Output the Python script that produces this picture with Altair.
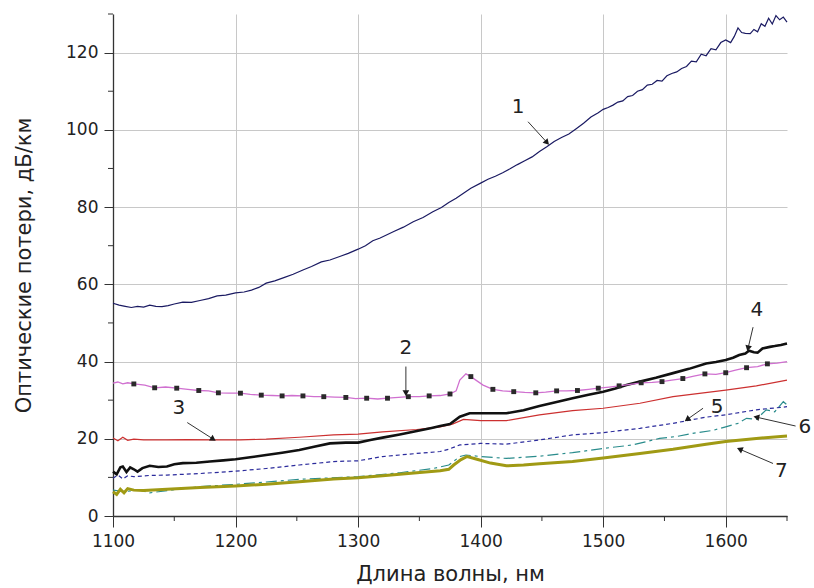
import math
import altair as alt
import pandas as pd

# ---------------- data ----------------
wl1 = [1100,1105,1110,1115,1120,1125,1130,1135,1140,1145,1150,1157,1164,1171,1178,1185,1192,1200,1207,1213,1219,1225,1232,1240,1247,1255,1262,1270,1277,1285,1292,1300,1306,1312,1318,1324,1330,1337,1345,1353,1361,1368,1374,1380,1386,1392,1400,1406,1412,1418,1424,1430,1436,1442,1448,1454,1460,1466,1472,1478,1484,1490,1496,1500,1504,1508,1512,1516,1520,1524,1528,1532,1536,1540,1544,1548,1552,1556,1560,1564,1568,1572,1576,1580,1584,1588,1592,1596,1600,1604,1607,1610,1613,1616,1620,1623,1626,1629,1632,1635,1638,1641,1644,1647,1650]
v1 = [55.1,54.6,54.3,54.0,54.3,54.1,54.6,54.3,54.2,54.5,54.9,55.4,55.3,55.8,56.3,57.0,57.2,57.8,58.0,58.5,59.2,60.3,60.9,61.8,62.6,63.7,64.6,65.8,66.3,67.2,68.0,69.1,70.0,71.3,72.0,72.9,73.8,74.8,76.2,77.3,78.8,79.9,81.2,82.3,83.6,84.9,86.2,87.2,88.0,88.9,89.9,91.0,92.0,93.0,94.4,95.6,97.0,98.0,98.9,100.3,101.7,103.3,104.4,105.3,105.8,106.4,107.2,107.5,108.6,108.9,110.0,110.4,111.6,111.8,112.8,112.6,114.0,114.6,115.0,115.9,116.4,117.8,117.6,119.6,119.2,121.0,120.7,122.6,123.3,122.6,124.2,126.4,125.2,125.0,124.9,126.0,125.4,127.5,126.8,128.9,127.4,129.6,128.5,129.2,127.9]

wl2 = [1100,1104,1108,1112,1117,1126,1134,1143,1152,1161,1170,1178,1186,1195,1204,1212,1221,1230,1238,1246,1255,1264,1272,1281,1290,1298,1307,1316,1324,1333,1341,1350,1358,1367,1375,1380,1383,1388,1392,1402,1410,1418,1427,1436,1445,1453,1462,1470,1479,1488,1496,1505,1513,1522,1531,1540,1548,1556,1565,1574,1583,1592,1600,1608,1617,1626,1634,1642,1650]
v2 = [34.4,34.7,34.2,34.5,34.2,33.9,33.2,33.4,33.1,32.8,32.5,32.4,31.9,31.8,31.8,31.5,31.3,31.2,31.1,31.2,31.1,30.9,30.9,30.8,30.7,30.4,30.5,30.3,30.5,30.7,30.9,30.9,31.1,31.2,31.6,32.4,35.2,36.8,36.1,33.9,32.8,32.4,32.2,32.0,31.9,32.1,32.4,32.4,32.5,32.8,33.1,33.4,33.7,34.1,34.5,34.6,34.8,35.2,35.6,36.2,36.8,36.7,37.1,37.8,38.4,38.7,39.4,39.6,40.0]
mk_wl = [1117,1134,1152,1170,1186,1204,1221,1238,1255,1272,1290,1307,1324,1341,1358,1375,1392,1410,1427,1445,1462,1479,1496,1513,1531,1548,1565,1583,1600,1617,1634]
mk_v = [34.2,33.2,33.1,32.5,31.9,31.8,31.3,31.1,31.1,30.9,30.7,30.5,30.5,30.9,31.1,31.6,36.1,32.8,32.2,31.9,32.4,32.5,33.1,33.7,34.5,34.8,35.6,36.8,37.1,38.4,39.4]

wl3 = [1100,1104,1108,1112,1117,1125,1144,1160,1182,1204,1225,1252,1280,1300,1320,1348,1367,1377,1386,1400,1421,1448,1475,1500,1530,1557,1600,1625,1650]
v3 = [20.2,19.5,20.4,19.6,19.9,19.7,19.7,19.8,19.7,19.7,19.9,20.4,21.0,21.2,21.8,22.4,23.1,23.8,25.0,24.7,24.7,26.2,27.3,27.9,29.2,30.9,32.6,33.7,35.2]

wl4 = [1100,1103,1106,1108,1111,1114,1117,1120,1124,1130,1137,1144,1150,1157,1168,1179,1190,1200,1212,1225,1238,1252,1265,1277,1290,1300,1310,1320,1334,1348,1360,1367,1375,1383,1391,1400,1421,1435,1448,1462,1475,1488,1500,1510,1519,1530,1543,1557,1570,1584,1592,1600,1606,1611,1616,1619,1623,1626,1630,1636,1640,1645,1650]
v4 = [11.5,10.8,12.6,12.8,11.4,12.6,12.1,11.5,12.4,13.0,12.7,12.8,13.4,13.7,13.8,14.1,14.4,14.7,15.2,15.8,16.4,17.1,18.0,18.8,19.0,19.0,19.7,20.3,21.1,22.0,22.8,23.3,23.8,25.7,26.6,26.6,26.6,27.4,28.5,29.5,30.5,31.4,32.2,33.0,33.9,34.8,35.8,37.0,38.1,39.5,39.9,40.4,41.0,41.7,42.1,42.8,42.4,42.3,43.4,43.8,44.0,44.3,44.7]

wl5 = [1100,1104,1108,1112,1117,1130,1144,1171,1200,1225,1252,1280,1300,1320,1348,1367,1374,1383,1400,1421,1448,1475,1500,1530,1557,1584,1600,1625,1650]
v5 = [9.8,10.6,9.6,10.4,10.2,10.5,10.6,11.0,11.6,12.3,13.2,14.1,14.3,15.4,16.2,16.7,17.3,18.4,18.8,18.6,19.7,21.0,21.6,22.7,24.0,25.6,26.2,27.5,28.3]

wl6 = [1100,1110,1120,1130,1150,1171,1200,1225,1252,1300,1334,1361,1374,1383,1388,1400,1421,1448,1475,1500,1524,1546,1560,1573,1590,1600,1610,1617,1625,1633,1640,1647,1650]
v6 = [6.7,6.3,6.8,6.0,6.8,7.6,8.2,8.8,9.5,10.2,11.2,12.3,13.2,15.4,15.8,15.4,14.9,15.5,16.4,17.5,18.4,20.1,20.6,21.4,22.2,23.1,24.0,25.3,25.0,27.5,27.0,29.6,28.8]

wl7 = [1100,1103,1106,1109,1112,1117,1125,1144,1171,1200,1225,1252,1280,1300,1320,1348,1367,1374,1378,1384,1389,1397,1408,1421,1435,1448,1475,1500,1530,1557,1584,1600,1625,1650]
v7 = [6.3,5.6,6.9,6.0,7.1,6.7,6.6,6.9,7.4,7.8,8.2,8.9,9.6,9.9,10.4,11.2,11.7,12.1,13.2,14.6,15.4,14.7,13.7,13.0,13.2,13.5,14.1,15.0,16.2,17.3,18.6,19.3,20.1,20.7]

# curve labels and arrows (label position, arrow start, arrow end)
lab_txt = ["1", "2", "3", "4", "5", "6", "7"]
lab_wl = [1430.6, 1339, 1153.8, 1625.5, 1593, 1664.5, 1645.4]
lab_v = [106.0, 43.4, 27.9, 53.4, 28.3, 23.1, 11.7]
arr_wl1 = [1438.7, 1339, 1160.6, 1622.3, 1581.5, 1657, 1638.6]
arr_v1 = [102.1, 38.7, 24.2, 48.9, 27.9, 23.3, 13.6]
arr_wl2 = [1454.2, 1339, 1181.8, 1618.2, 1568.5, 1625, 1611.4]
arr_v2 = [96.7, 31.8, 19.9, 43.4, 25.0, 25.6, 17.3]

x_major = [1100, 1200, 1300, 1400, 1500, 1600]
x_minor = [1150, 1250, 1350, 1450, 1550, 1650]
y_major = [0, 20, 40, 60, 80, 100, 120]
y_minor = [10, 30, 50, 70, 90, 110, 130]

X_TITLE = "Длина волны, нм"
Y_TITLE = "Оптические потери, дБ/км"

# ---------------- chart ----------------
W, H = 674, 502
XDOM = [1100, 1650]
YDOM = [0, 130]
FONT = "DejaVu Sans"

xs = alt.Scale(domain=XDOM, nice=False, zero=False)
ys = alt.Scale(domain=YDOM, nice=False, zero=True)
xaxis = alt.Axis(values=x_major, title=X_TITLE, grid=True, format="d")
yaxis = alt.Axis(values=y_major, title=Y_TITLE, grid=True, format="d")


def X(field):
    return alt.X(field, type="quantitative", scale=xs, axis=xaxis)


def Y(field):
    return alt.Y(field, type="quantitative", scale=ys, axis=yaxis)


def line_layer(wl, v, color, width, dash=None):
    df = pd.DataFrame({"wl": wl, "val": v})
    kw = dict(color=color, strokeWidth=width, clip=False)
    if dash is not None:
        kw["strokeDash"] = dash
    return alt.Chart(df).mark_line(**kw).encode(x=X("wl"), y=Y("val"))


layers = [
    line_layer(wl1, v1, "#1a1a62", 1.2),
    line_layer(wl3, v3, "#cc3030", 1.2),
    line_layer(wl5, v5, "#2b2b9c", 1.2, [4, 3]),
    line_layer(wl6, v6, "#2a8c8c", 1.2, [11, 4, 3, 4]),
    line_layer(wl7, v7, "#a09a14", 3.0),
    line_layer(wl4, v4, "#111111", 2.6),
    line_layer(wl2, v2, "#d070d0", 1.3),
]

mk = alt.Chart(pd.DataFrame({"wl": mk_wl, "val": mk_v})).mark_square(
    size=24, color="#2a2a2a", opacity=1
).encode(x=X("wl"), y=Y("val"))
layers.append(mk)

# minor ticks (drawn outside the plot, like the axis ticks)
minx = alt.Chart(pd.DataFrame({"wl": x_minor})).mark_rule(
    color="#333333", strokeWidth=1
).encode(x=X("wl"), y=alt.value(H), y2=alt.value(H + 5))
miny = alt.Chart(pd.DataFrame({"val": y_minor})).mark_rule(
    color="#333333", strokeWidth=1
).encode(y=Y("val"), x=alt.value(0), x2=alt.value(-5))
layers += [minx, miny]

# arrows
pxn = W / (XDOM[1] - XDOM[0])
pxv = H / (YDOM[1] - YDOM[0])
angs = []
for a, b, c, d in zip(arr_wl1, arr_v1, arr_wl2, arr_v2):
    dx = (c - a) * pxn
    dy = -(d - b) * pxv
    angs.append(math.degrees(math.atan2(dx, -dy)) % 360)
arr_df = pd.DataFrame({"wl": arr_wl1, "val": arr_v1, "wl2": arr_wl2, "val2": arr_v2, "ang": angs})
arrows = alt.Chart(arr_df).mark_rule(color="#333333", strokeWidth=1).encode(
    x=X("wl"), y=Y("val"), x2="wl2:Q", y2="val2:Q"
)
heads = alt.Chart(arr_df).mark_point(
    shape="triangle-up", filled=True, size=45, color="#1a1a1a", opacity=1
).encode(x=X("wl2"), y=Y("val2"), angle=alt.Angle("ang:Q", scale=None))
labels = alt.Chart(pd.DataFrame({"wl": lab_wl, "val": lab_v, "t": lab_txt})).mark_text(
    font=FONT, fontSize=20, color="#222222", align="center", baseline="middle"
).encode(x=X("wl"), y=Y("val"), text="t:N")
layers += [arrows, heads, labels]

chart = alt.layer(*layers).properties(
    width=W,
    height=H,
    autosize=alt.AutoSizeParams(type="none"),
    padding={"left": 113, "top": 14, "right": 27, "bottom": 72},
    background="white",
).configure_view(strokeWidth=0).configure_axis(
    domainColor="#333333",
    domainWidth=1.3,
    tickColor="#333333",
    tickWidth=1,
    gridColor="#c8c8c8",
    gridWidth=1,
    labelFont=FONT,
    labelFontSize=17,
    labelColor="#222222",
    titleFont=FONT,
    titleFontSize=21,
    titleFontWeight="normal",
    titleColor="#222222",
).configure_axisX(
    tickSize=11, labelPadding=6, titlePadding=14, labelFlush=False
).configure_axisY(
    tickSize=9, labelPadding=6, titlePadding=31
)

chart.save("out.html", embed_options={"renderer": "svg", "actions": False})
